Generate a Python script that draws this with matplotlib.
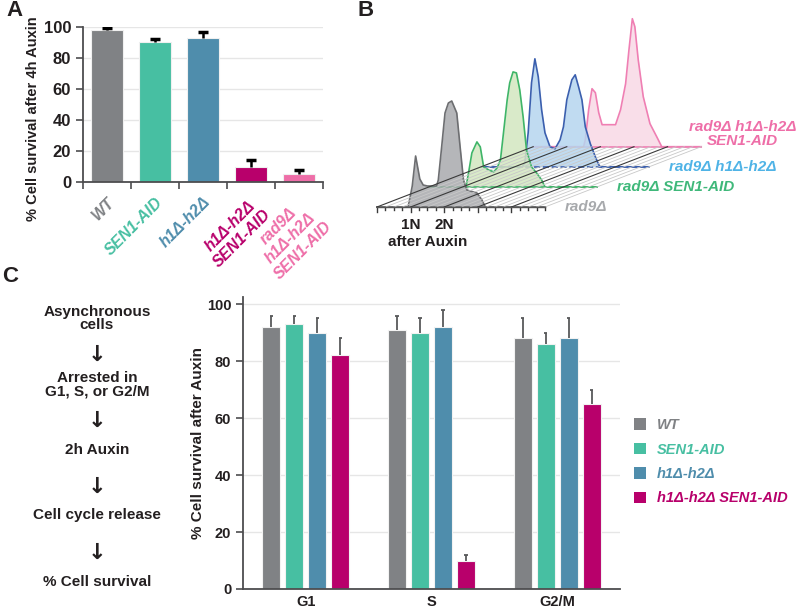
import matplotlib
matplotlib.use("Agg")
import numpy as np
import matplotlib.pyplot as plt
from matplotlib.patches import Patch

plt.rcParams['font.family'] = ['Liberation Sans', 'DejaVu Sans']
plt.rcParams['font.weight'] = 'bold'
plt.rcParams['axes.labelweight'] = 'bold'

W, H = 800, 607

# colours used for the strains
GRAY = '#808285'
TEAL = '#47bfa2'
BLUE = '#4f8dac'
MAGENTA = '#b8006b'
PINK = '#ee6ea8'
INK = '#231f20'

# ---- panel A: survival after 4h auxin
a_strains = ['WT', 'SEN1-AID', 'h1Δ-h2Δ', 'h1Δ-h2Δ\nSEN1-AID', 'rad9Δ\nh1Δ-h2Δ\nSEN1-AID']
a_survival = [98, 90, 93, 10, 5]
a_err = [1.5, 2, 3.5, 4, 3]
a_colors = [GRAY, TEAL, BLUE, MAGENTA, PINK]

# ---- panel B: DNA content histograms (x in DNA units, h in counts)
b_labels = ['rad9Δ', 'rad9Δ SEN1-AID', 'rad9Δ h1Δ-h2Δ', 'rad9Δ h1Δ-h2Δ\nSEN1-AID']
gray_x = [0, 3.7, 3.9, 4.2, 4.6, 5.1, 5.5, 6.0, 7.1, 7.3, 7.7, 8.1, 8.5, 8.9, 9.5, 9.9, 10.3, 10.7, 11.9, 12.5, 12.9, 20]
gray_h = [0, 0, 8, 21, 51, 28, 22, 21, 21, 27, 60, 94, 104, 106, 94, 60, 27, 17, 14, 7, 0, 0]
green_x = [0, 4.4, 4.7, 5.1, 5.7, 6.1, 6.5, 7.1, 7.7, 8.1, 8.5, 8.9, 9.3, 9.6, 10.0, 10.4, 10.8, 11.2, 11.6, 12.2, 12.8, 13.4, 13.8, 20]
green_h = [0, 0, 14, 34, 45, 40, 20, 17, 15, 19, 27, 57, 87, 104, 115, 114, 97, 70, 37, 20, 14, 7, 0, 0]
blue_x = [0, 4.9, 5.2, 5.6, 6.0, 6.4, 6.8, 7.2, 7.6, 8.2, 8.8, 9.4, 9.8, 10.2, 10.8, 11.2, 11.6, 12.0, 12.4, 13.0, 13.6, 14.0, 14.2, 20]
blue_h = [0, 0, 4, 34, 84, 108, 90, 57, 34, 20, 18, 27, 40, 67, 87, 92, 80, 67, 40, 23, 10, 2, 0, 0]
pink_x = [0, 6.0, 6.2, 6.6, 7.0, 7.4, 7.8, 8.2, 8.8, 9.8, 10.4, 11.0, 11.4, 11.8, 12.1, 12.5, 13.1, 13.9, 14.7, 15.3, 20]
pink_h = [0, 0, 7, 37, 58, 54, 34, 22, 22, 22, 37, 63, 97, 128, 120, 87, 50, 23, 10, 0, 0]
b_ticks = list(range(0, 21))
b_major = [0, 4, 8, 12, 16]

# ---- panel C: survival per arrest phase
c_phases = ['G1', 'S', 'G2/M']
c_strains = ['WT', 'SEN1-AID', 'h1Δ-h2Δ', 'h1Δ-h2Δ SEN1-AID']
c_wt = [92, 91, 88]
c_wt_err = [4, 5, 7]
c_sen1 = [93, 90, 86]
c_sen1_err = [3, 5, 4]
c_h1h2 = [90, 92, 88]
c_h1h2_err = [5, 6, 7]
c_h1h2_sen1 = [82, 10, 65]
c_h1h2_sen1_err = [6, 2, 5]
flow_steps = ['Asynchronous\ncells', 'Arrested in\nG1, S, or G2/M', '2h Auxin',
              'Cell cycle release', '% Cell survival']

fig = plt.figure(figsize=(W / 100, H / 100), dpi=100)


def px_axes(x0, y0, x1, y1):
    return fig.add_axes([x0 / W, 1 - y1 / H, (x1 - x0) / W, (y1 - y0) / H])


def style_axes(ax):
    for s in ['top', 'right']:
        ax.spines[s].set_visible(False)
    for s in ['left', 'bottom']:
        ax.spines[s].set_color('#4d4d4f')
        ax.spines[s].set_linewidth(1.3)
    ax.yaxis.grid(True, color='#e6e6e6', lw=1)
    ax.set_axisbelow(True)


def upper_err(ax, pos, vals, errs, color, lw, cap_w, cap_lw):
    # only the upper half of the error bar, like the figure
    tops = np.array(vals) + np.array(errs)
    ax.vlines(pos, vals, tops, color=color, lw=lw, zorder=3)
    ax.hlines(tops, np.array(pos) - cap_w, np.array(pos) + cap_w, color=color,
              lw=cap_lw, zorder=3)


# ---------------- A
ax_a = px_axes(83, 27, 323, 182)
xa = np.arange(len(a_strains))
ax_a.bar(xa, a_survival, width=0.66, color=a_colors, edgecolor='#f0f0f0',
         linewidth=0.8, zorder=2)
upper_err(ax_a, xa, a_survival, a_err, 'black', 1.8, 0.1, 2.5)
ax_a.set_xlim(-0.5, 4.5)
ax_a.set_ylim(0, 100)
ax_a.set_yticks(range(0, 101, 20))
style_axes(ax_a)
ax_a.tick_params(axis='y', length=5, width=1.2, labelsize=12, colors='#4d4d4f',
                 labelcolor=INK)
ax_a.set_xticks(xa)
ax_a.set_xticks(np.arange(-0.5, 5, 1), minor=True)
ax_a.tick_params(axis='x', which='major', length=0, pad=9)
ax_a.tick_params(axis='x', which='minor', length=5, width=1.2, colors='#4d4d4f')
ax_a.set_xticklabels(a_strains, fontsize=11.5, style='italic')
for lbl, col in zip(ax_a.get_xticklabels(), a_colors):
    lbl.set_color(col)
    lbl.set_rotation(45)
    lbl.set_ha('right')
    lbl.set_va('top')
    lbl.set_rotation_mode('anchor')
    lbl.set_multialignment('center')
ax_a.set_ylabel('% Cell survival after 4h Auxin', fontsize=10.5, color=INK)
ax_a.yaxis.set_label_coords(-0.18, 0.41)

# ---------------- B
ax_b = px_axes(370, 0, 800, 260)
ax_b.set_xlim(-0.83, 50.36)
ax_b.set_ylim(-53, 207)
ax_b.axis('off')
DX, DY = 6.2, 20.1
n_back = 3

traces = [
    (pink_x, pink_h, '#ef7fb3', '#f8d9e6', 3, '-'),
    (blue_x, blue_h, '#3b5fae', '#b5d5ef', 2, '--'),
    (green_x, green_h, '#3fb568', '#d3e7c0', 1, '-'),
    (gray_x, gray_h, '#6d6e71', '#a8aaad', 0, '-'),
]
for i, (xs, hs, lc, fc, k, base_ls) in enumerate(traces):
    xs = np.array(xs) + k * DX
    ys = np.array(hs) + k * DY
    z = 2 + 2 * i
    ax_b.fill_between(xs, k * DY, ys, color=fc, alpha=0.85, lw=0, zorder=z)
    ax_b.plot([xs[0], xs[-1]], [k * DY, k * DY], color=lc, lw=1.2, ls=base_ls,
              zorder=z + 0.5)
    ax_b.plot(xs, ys, color=lc, lw=1.2, zorder=z + 1)

for u in b_ticks:
    major = u in b_major
    ax_b.plot([u, u + n_back * DX], [0, n_back * DY],
              color='#3a3a3a' if major else '#c8c8c8',
              lw=0.8 if major else 0.6, zorder=20 if major else 11)
    ax_b.plot([u, u], [0, -5 if major else -3], color='#3a3a3a', lw=1, zorder=20)
ax_b.plot([0, 20], [0, 0], color='#555555', lw=1, zorder=20)

ax_b.text(4, -18, '1N', ha='center', va='center', fontsize=11, color=INK)
ax_b.text(8, -18, '2N', ha='center', va='center', fontsize=11, color=INK)
ax_b.text(6, -35, 'after Auxin', ha='center', va='center', fontsize=11, color=INK)

b_text_colors = ['#a7a9ac', '#3fb87a', '#4fb3e6', PINK]
for k, (lab, col) in enumerate(zip(b_labels, b_text_colors)):
    if k < 3:
        ax_b.text(20 + k * DX + 2.4, k * DY, lab, ha='left', va='center',
                  fontsize=11, style='italic', color=col)
    else:
        ax_b.text(20 + k * DX + 4.9, k * DY + 13, lab, ha='center', va='center',
                  fontsize=11, style='italic', color=col, linespacing=1.0)

# ---------------- C
ax_c = px_axes(243, 297, 620, 589)
xc = np.arange(len(c_phases))
c_vals = [c_wt, c_sen1, c_h1h2, c_h1h2_sen1]
c_errs = [c_wt_err, c_sen1_err, c_h1h2_err, c_h1h2_sen1_err]
c_colors = [GRAY, TEAL, BLUE, MAGENTA]
bw, step = 0.143, 0.183
for j, (vals, errs, col) in enumerate(zip(c_vals, c_errs, c_colors)):
    pos = xc + (j - 1.5) * step
    ax_c.bar(pos, vals, bw, color=col, edgecolor='#f2f2f2', linewidth=0.8, zorder=2)
    upper_err(ax_c, pos, vals, errs, '#58595b', 1.3, 0.012, 1.3)
ax_c.set_xlim(-0.5, 2.5)
ax_c.set_ylim(0, 102.5)
ax_c.set_yticks(range(0, 101, 20))
style_axes(ax_c)
ax_c.tick_params(axis='y', length=5, width=1.2, labelsize=10.5, colors='#4d4d4f',
                 labelcolor=INK)
ax_c.set_xticks(xc)
ax_c.set_xticklabels(c_phases, fontsize=10.5, color=INK)
ax_c.tick_params(axis='x', length=0, pad=4)
ax_c.set_ylabel('% Cell survival after Auxin', fontsize=11, color=INK)
ax_c.yaxis.set_label_coords(-0.10, 0.5)

handles = [Patch(facecolor=c, edgecolor='none') for c in c_colors]
leg = ax_c.legend(handles, c_strains, loc='upper left',
                  bbox_to_anchor=(634 / W, 1 - 418 / H), bbox_transform=fig.transFigure,
                  frameon=False, fontsize=10.5, handlelength=0.85, handleheight=0.85,
                  handletextpad=0.7, labelspacing=0.72, borderpad=0, borderaxespad=0)
for txt, col in zip(leg.get_texts(), c_colors):
    txt.set_color(col)
    txt.set_style('italic')

# flow chart on the left of C
flow_y = [318.5, 384.5, 450, 515, 582]
arrow_y = [355, 421, 487, 553]
for s, y in zip(flow_steps, flow_y):
    fig.text(97 / W, 1 - y / H, s, ha='center', va='center', fontsize=11,
             color=INK, linespacing=0.95)
for y in arrow_y:
    fig.text(97 / W, 1 - y / H, '↓', ha='center', va='center', fontsize=16,
             family='DejaVu Sans', color=INK)

# panel letters
for letter, x, y in [('A', 14, 11), ('B', 366, 10), ('C', 10, 276)]:
    fig.text(x / W, 1 - y / H, letter, ha='center', va='center', fontsize=16,
             color=INK)

fig.savefig('out.png', dpi=100)
